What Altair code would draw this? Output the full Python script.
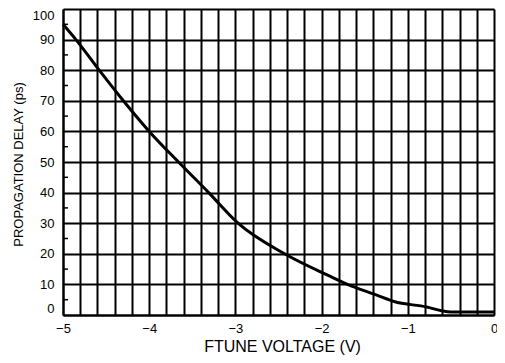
import altair as alt
import pandas as pd

# Data
voltage = [-5.0, -4.85, -4.58, -4.30, -4.0, -3.66, -3.31, -2.97, -2.43, -1.93, -1.70, -1.36, -1.16, -0.78, -0.61, -0.5, 0.0]
delay_ps = [95, 90, 80, 70, 60, 50, 40, 30, 20, 13, 10, 6.5, 4.4, 2.6, 1.4, 1.0, 1.0]

x_labels = [-5, -4, -3, -2, -1, 0]
y_ticks = [0, 10, 20, 30, 40, 50, 60, 70, 80, 90, 100]
y_minor = [5, 15, 25, 35, 45, 55, 65, 75, 85, 95]
x_grid = [round(-5 + 0.2 * i, 1) for i in range(26)]

df = pd.DataFrame({"v": voltage, "d": delay_ps})
minor_df = pd.DataFrame({"m": y_minor})

FONT = "Liberation Sans"

x_scale = alt.Scale(domain=[-5, 0], nice=False, zero=False)
y_scale = alt.Scale(domain=[0, 100], nice=False)

y_axis = alt.Axis(values=y_ticks, title="PROPAGATION DELAY (ps)",
                  grid=True, gridColor="black", gridWidth=2, gridOpacity=1,
                  domain=True, domainColor="black", domainWidth=2,
                  ticks=False, labelPadding=9, labelFont=FONT, labelFontSize=13,
                  labelColor="black", labelFlush=True, labelOverlap=False,
                  titleFont=FONT, titleFontSize=13, titleFontWeight="normal",
                  titleColor="black", titleX=-45, titleY=155,
                  titleBaseline="middle", titleAngle=270)

line = alt.Chart(df).mark_line(color="black", strokeWidth=3, interpolate="monotone").encode(
    x=alt.X("v:Q", scale=x_scale,
            axis=alt.Axis(values=x_grid, title="FTUNE VOLTAGE (V)",
                          labelExpr="abs(datum.value - round(datum.value)) < 0.01 ? format(datum.value, 'd') : ''",
                          grid=True, gridColor="black", gridWidth=2, gridOpacity=1,
                          domain=True, domainColor="black", domainWidth=2,
                          ticks=False, labelPadding=7, labelFont=FONT, labelFontSize=13,
                          labelColor="black", labelFlush=False, labelOverlap=False,
                          titleFont=FONT, titleFontSize=16, titleFontWeight="normal",
                          titleColor="black", titleX=219, titleY=36,
                          titleBaseline="alphabetic")),
    y=alt.Y("d:Q", scale=y_scale, axis=y_axis),
)

minor = alt.Chart(minor_df).mark_rule(color="black", strokeWidth=1.5).encode(
    x=alt.value(0), x2=alt.value(5),
    y=alt.Y("m:Q", scale=y_scale, axis=y_axis),
)

chart = alt.layer(line, minor).properties(
    width=431, height=306,
    autosize=alt.AutoSizeParams(type="none"),
    padding={"left": 55, "top": 1, "right": 3, "bottom": 40},
).configure_view(stroke="black", strokeWidth=2).configure(background="white")

chart.save("out.html", embed_options={"renderer": "svg", "actions": False})
